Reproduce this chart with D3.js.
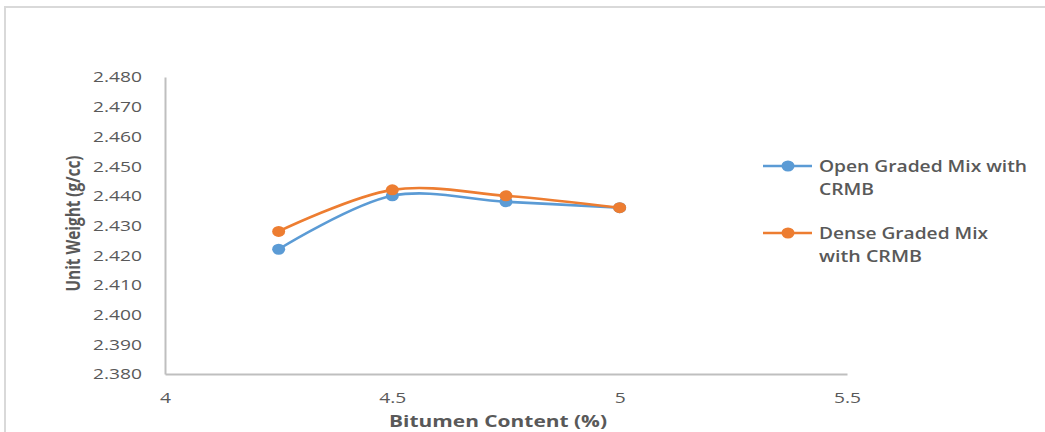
<!DOCTYPE html>
<html>
<head>
<meta charset="utf-8">
<script src="https://cdn.jsdelivr.net/npm/d3@7"></script>
<style>
  html, body { margin: 0; padding: 0; background: #fff; }
  svg { display: block; }
  text { font-family: "Open Sans", "DejaVu Sans", sans-serif; fill: #595959; }
</style>
</head>
<body>
<svg id="chart" width="1045" height="432"></svg>
<script>
// Bitumen content (%) for each mix
const bitumen = [4.25, 4.5, 4.75, 5.0];
// Unit weight (g/cc)
const openGraded = [2.422, 2.440, 2.438, 2.436];
const denseGraded = [2.428, 2.442, 2.440, 2.436];
const seriesNames = [["Open Graded Mix with", "CRMB"], ["Dense Graded Mix", "with CRMB"]];
const seriesColors = ["#5B9BD5", "#ED7D31"];
const xTicks = [4, 4.5, 5, 5.5];
const xTickLabels = ["4", "4.5", "5", "5.5"];
const yTicks = [2.38, 2.39, 2.40, 2.41, 2.42, 2.43, 2.44, 2.45, 2.46, 2.47, 2.48];

const svg = d3.select("#chart");

// outer frame
svg.append("rect")
  .attr("x", 5).attr("y", 7)
  .attr("width", 1060).attr("height", 440)
  .attr("fill", "none").attr("stroke", "#d9d9d9").attr("stroke-width", 2);

const plot = { left: 165, right: 847, top: 77, bottom: 374 };

const x = d3.scaleLinear().domain([4, 5.5]).range([plot.left, plot.right]);
const y = d3.scaleLinear().domain([2.38, 2.48]).range([plot.bottom, plot.top]);

// axes
const xAxis = d3.axisBottom(x).tickValues(xTicks).tickSize(0)
  .tickFormat((d, i) => xTickLabels[i]);
const yAxis = d3.axisLeft(y).tickValues(yTicks).tickSize(0)
  .tickFormat(d3.format(".3f"));

const gx = svg.append("g").attr("transform", `translate(0,${plot.bottom})`).call(xAxis);
gx.select(".domain").attr("stroke", "#bfbfbf").attr("stroke-width", 2);
gx.selectAll(".tick text")
  .attr("dy", 0).attr("y", 29)
  .style("font-size", "15px").style("font-family", "\"Open Sans\", sans-serif")
  .attr("fill", "#595959")
  .attr("textLength", (d, i) => xTickLabels[i].length === 1 ? 11 : 27)
  .attr("lengthAdjust", "spacingAndGlyphs");

const gy = svg.append("g").attr("transform", `translate(${plot.left},0)`).call(yAxis);
gy.select(".domain").attr("stroke", "#bfbfbf").attr("stroke-width", 2);
gy.selectAll(".tick text")
  .attr("x", -23).attr("dy", "0.35em")
  .style("font-size", "14px").style("font-family", "\"Open Sans\", sans-serif")
  .attr("fill", "#595959")
  .attr("textLength", 49)
  .attr("lengthAdjust", "spacingAndGlyphs");

// axis titles
svg.append("text")
  .attr("x", 498).attr("y", 427)
  .attr("text-anchor", "middle")
  .style("font-size", "16px").style("font-weight", "bold")
  .attr("textLength", 218).attr("lengthAdjust", "spacingAndGlyphs")
  .text("Bitumen Content (%)");

svg.append("text")
  .attr("transform", `translate(80,${(plot.top + plot.bottom) / 2 - 2}) rotate(-90)`)
  .attr("text-anchor", "middle")
  .style("font-size", "19px").style("font-weight", "bold")
  .attr("textLength", 136).attr("lengthAdjust", "spacingAndGlyphs")
  .text("Unit Weight (g/cc)");

// series lines and markers
const line = d3.line()
  .x((d, i) => x(bitumen[i]))
  .y(d => y(d))
  .curve(d3.curveCatmullRom.alpha(0.5));

[openGraded, denseGraded].forEach((vals, s) => {
  svg.append("path")
    .datum(vals)
    .attr("d", line)
    .attr("fill", "none")
    .attr("stroke", seriesColors[s])
    .attr("stroke-width", 2.6)
    .attr("stroke-linecap", "round");
  svg.selectAll(null)
    .data(vals)
    .enter().append("ellipse")
    .attr("cx", (d, i) => x(bitumen[i]))
    .attr("cy", d => y(d))
    .attr("rx", 6.5).attr("ry", 5.5)
    .attr("fill", seriesColors[s]);
});

// legend
const legendRows = [166, 233];
seriesNames.forEach((lines, s) => {
  const ly = legendRows[s];
  svg.append("line")
    .attr("x1", 763).attr("x2", 812).attr("y1", ly).attr("y2", ly)
    .attr("stroke", seriesColors[s]).attr("stroke-width", 2.6);
  svg.append("ellipse")
    .attr("cx", 788).attr("cy", ly).attr("rx", 6.5).attr("ry", 5.5)
    .attr("fill", seriesColors[s]);
  const widths = s === 0 ? [208, 55] : [169, 103];
  lines.forEach((t, k) => {
    svg.append("text")
      .attr("x", 819).attr("y", ly + 6 + k * 23)
      .style("font-size", "16px").style("font-weight", "600")
      .attr("textLength", widths[k]).attr("lengthAdjust", "spacingAndGlyphs")
      .text(t);
  });
});
</script>
</body>
</html>
